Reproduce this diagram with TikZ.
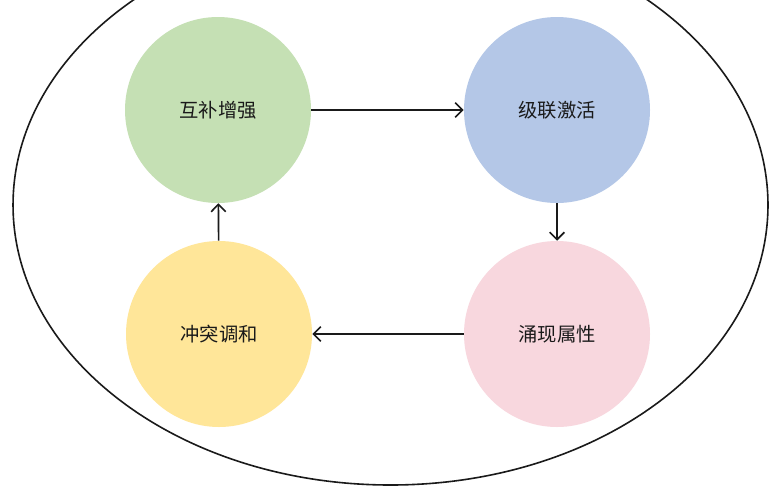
\documentclass[tikz,border=0pt]{standalone}
\usepackage{fontspec}
\newfontfamily\cjk{Noto Sans CJK SC}
\usetikzlibrary{arrows.meta,positioning}
\definecolor{Ink}{HTML}{1A1A1A}
\definecolor{PhaseGreen}{HTML}{C5E0B4}
\definecolor{PhaseBlue}{HTML}{B4C7E7}
\definecolor{PhaseYellow}{HTML}{FFE699}
\definecolor{PhasePink}{HTML}{F8D7DE}

\begin{document}
\begin{tikzpicture}[x=0.75pt,y=-0.75pt,>={Straight Barb[length=5.5pt,width=11pt]},
  phase/.style={circle,minimum size=139.5pt,inner sep=0pt,draw=none,text=Ink,font=\cjk\fontsize{14.5}{17}\selectfont},
  flow/.style={->,Ink,line width=1.2pt}]
\useasboundingbox (0,0) rectangle (777,486);
\clip (0,0) rectangle (777,486);
\fill[white] (0,0) rectangle (777,486);
\draw[Ink,line width=1.2pt] (390.5,205) ellipse [x radius=283.1pt,y radius=210pt];
\node[phase,fill=PhaseGreen] (comp) at (218,110) {互补增强};
\node[phase,fill=PhaseBlue] (casc) at (557,110) {级联激活};
\node[phase,fill=PhasePink] (emer) at (557,334) {涌现属性};
\node[phase,fill=PhaseYellow] (conf) at (219,334) {冲突调和};
\draw[flow] (comp) -- (casc);
\draw[flow] (casc) -- (emer);
\draw[flow] (emer) -- (conf);
\draw[flow] (conf) -- (comp);
\end{tikzpicture}
\end{document}
